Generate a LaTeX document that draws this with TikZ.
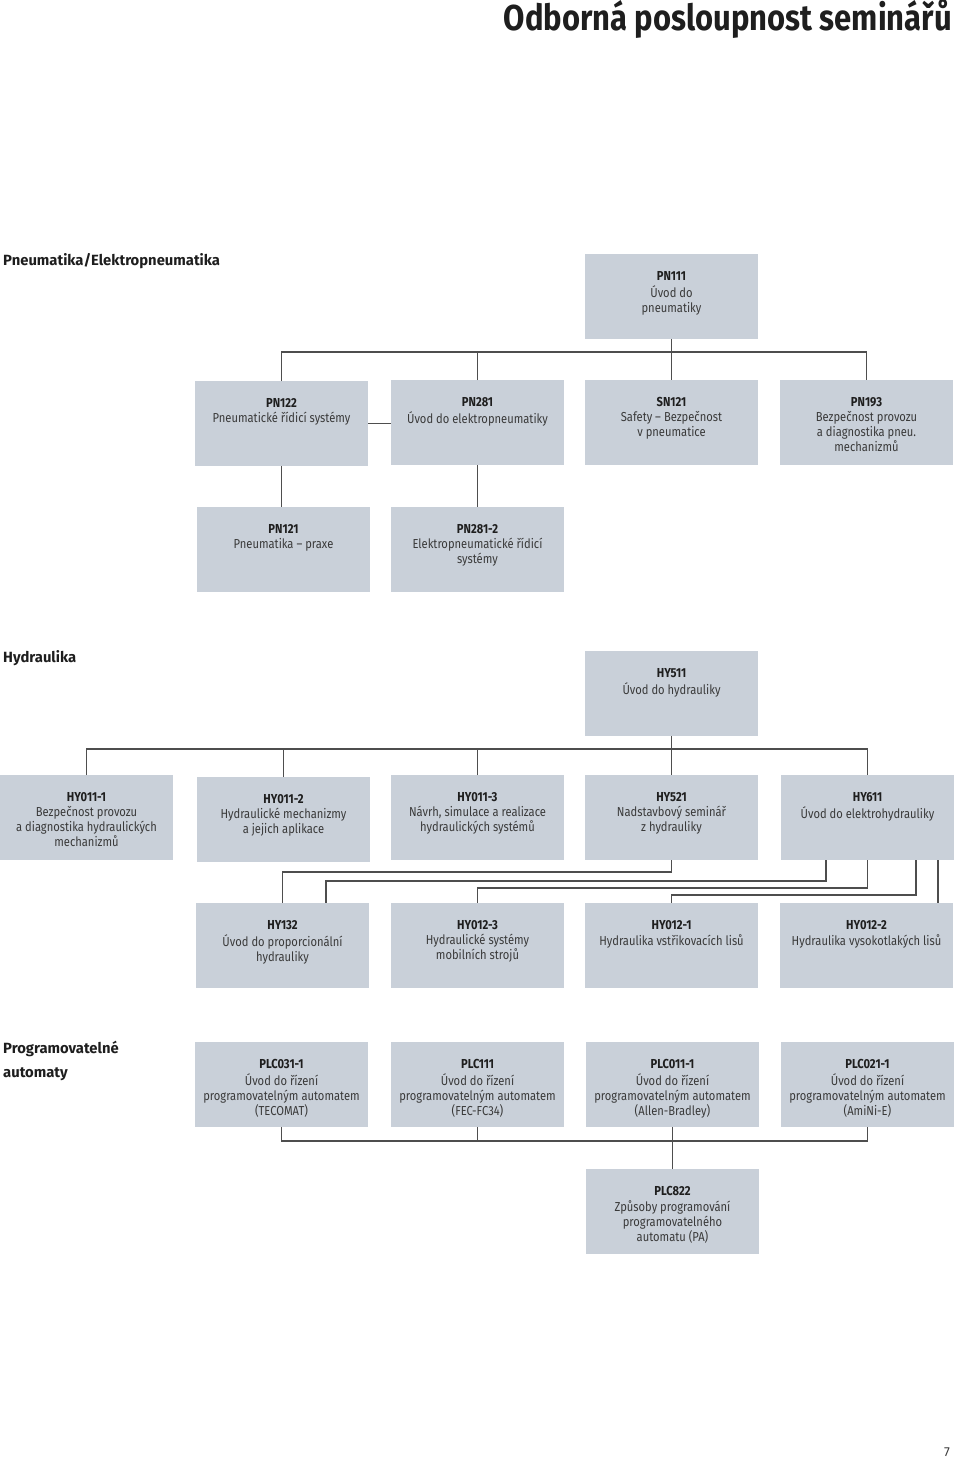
\documentclass[tikz,border=0pt]{standalone}
\usepackage{fontspec}
\setmainfont{Fira Sans}
\newfontfamily\boxfont{Fira Sans}[FakeStretch=0.86]
\newfontfamily\titlefont{Fira Sans}[FakeStretch=0.86]
\definecolor{boxc}{HTML}{C9D0D9}
\definecolor{linec}{HTML}{4E4E4E}
\definecolor{txtc}{HTML}{3A3A3A}
\definecolor{codec}{HTML}{1E1E1E}
\newcommand\bxt[2]{\vbox to 85pt{\hsize=173pt\parindent=0pt\boxfont\fontsize{13}{15}\selectfont
  \vskip 15.5pt\centering\strut{\color{codec}\bfseries #1}\\#2\par\vfill}}
\tikzset{
  box/.style={anchor=north west, fill=boxc, inner sep=0pt, outer sep=0pt, text=txtc},
  conn/.style={draw=linec, line width=1.1pt},
  hdr/.style={text=codec, inner sep=0pt, font=\fontsize{14.8}{24}\selectfont\bfseries}
}
\begin{document}
\begin{tikzpicture}[x=1pt,y=-1pt]
\useasboundingbox (0,0) rectangle (960,1461);
% title
\node[anchor=base east, inner sep=0pt, text=codec] (title) at (952,31)
  {\titlefont\fontsize{36}{38}\selectfont\bfseries Odborná posloupnost seminářů};
% headers
\node[hdr, anchor=base west] (hpn) at (3,265) {Pneumatika/Elektropneumatika};
\node[hdr, anchor=base west] (hhy) at (3,662) {Hydraulika};
\node[hdr, anchor=base west, align=left] (hplc) at (3,1077) {Programovatelné\\automaty};
% pneumatics
\node[box] (pn111) at (585,254) {\bxt{PN111}{Úvod do\\pneumatiky}};
\node[box] (pn122) at (195,381) {\bxt{PN122}{Pneumatické řídicí systémy}};
\node[box] (pn281) at (391,380) {\bxt{PN281}{Úvod do elektropneumatiky}};
\node[box] (sn121) at (585,380) {\bxt{SN121}{Safety – Bezpečnost\\v pneumatice}};
\node[box] (pn193) at (780,380) {\bxt{PN193}{Bezpečnost provozu\\a diagnostika pneu.\\mechanizmů}};
\node[box] (pn121) at (197,507) {\bxt{PN121}{Pneumatika – praxe}};
\node[box] (pn2812) at (391,507) {\bxt{PN281-2}{Elektropneumatické řídicí\\systémy}};
\coordinate (pbus) at (0,352);
\draw[conn] (pn122.north) -- (pn122.north |- pbus) -- (pn193.north |- pbus) -- (pn193.north);
\draw[conn] (pn281.north) -- (pn281.north |- pbus);
\draw[conn] (pn111.south) -- (sn121.north);
\draw[conn] (pn122.east) -- (pn122.east -| pn281.west);
\draw[conn] (pn122.south) -- (pn122.south |- pn121.north);
\draw[conn] (pn281.south) -- (pn2812.north);
% hydraulics
\node[box] (hy511) at (585,651) {\bxt{HY511}{Úvod do hydrauliky}};
\node[box] (hy0111) at (0,775) {\bxt{HY011-1}{Bezpečnost provozu\\a diagnostika hydraulických\\mechanizmů}};
\node[box] (hy0112) at (197,777) {\bxt{HY011-2}{Hydraulické mechanizmy\\a jejich aplikace}};
\node[box] (hy0113) at (391,775) {\bxt{HY011-3}{Návrh, simulace a realizace\\hydraulických systémů}};
\node[box] (hy521) at (585,775) {\bxt{HY521}{Nadstavbový seminář\\z hydrauliky}};
\node[box] (hy611) at (781,775) {\bxt{HY611}{Úvod do elektrohydrauliky}};
\node[box] (hy132) at (196,903) {\bxt{HY132}{Úvod do proporcionální\\hydrauliky}};
\node[box] (hy0123) at (391,903) {\bxt{HY012-3}{Hydraulické systémy\\mobilních strojů}};
\node[box] (hy0121) at (585,903) {\bxt{HY012-1}{Hydraulika vstřikovacích lisů}};
\node[box] (hy0122) at (780,903) {\bxt{HY012-2}{Hydraulika vysokotlakých lisů}};
\coordinate (hbus) at (0,749);
\draw[conn] (hy0111.north) -- (hy0111.north |- hbus) -- (hy611.north |- hbus) -- (hy611.north);
\draw[conn] (hy0112.north) -- (hy0112.north |- hbus);
\draw[conn] (hy0113.north) -- (hy0113.north |- hbus);
\draw[conn] (hy511.south) -- (hy521.north);
\coordinate (h1) at (0,872);
\coordinate (h2) at (0,881);
\coordinate (h3) at (0,888);
\coordinate (h4) at (0,895);
\coordinate (d1) at (826,0);
\coordinate (d3) at (916,0);
\coordinate (d4) at (938,0);
\coordinate (u2) at (326,0);
\draw[conn] (hy521.south) -- (hy521.south |- h1) -- (hy132.north |- h1) -- (hy132.north);
\draw[conn] (d1 |- hy611.south) -- (d1 |- h2) -- (u2 |- h2) -- (u2 |- hy132.north);
\draw[conn] (hy611.south) -- (hy611.south |- h3) -- (hy0123.north |- h3) -- (hy0123.north);
\draw[conn] (d3 |- hy611.south) -- (d3 |- h4) -- (hy0121.north |- h4) -- (hy0121.north);
\draw[conn] (d4 |- hy611.south) -- (d4 |- hy0122.north);
% PLC
\node[box] (plc0311) at (195,1042) {\bxt{PLC031-1}{Úvod do řízení\\programovatelným automatem\\(TECOMAT)}};
\node[box] (plc111) at (391,1042) {\bxt{PLC111}{Úvod do řízení\\programovatelným automatem\\(FEC-FC34)}};
\node[box] (plc0111) at (586,1042) {\bxt{PLC011-1}{Úvod do řízení\\programovatelným automatem\\(Allen-Bradley)}};
\node[box] (plc0211) at (781,1042) {\bxt{PLC021-1}{Úvod do řízení\\programovatelným automatem\\(AmiNi-E)}};
\node[box] (plc822) at (586,1169) {\bxt{PLC822}{Způsoby programování\\programovatelného\\automatu (PA)}};
\coordinate (lbus) at (0,1141);
\draw[conn] (plc0311.south) -- (plc0311.south |- lbus) -- (plc0211.south |- lbus) -- (plc0211.south);
\draw[conn] (plc111.south) -- (plc111.south |- lbus);
\draw[conn] (plc0111.south) -- (plc822.north);
% page number
\node[inner sep=0pt, text=txtc, font=\fontsize{13}{15}\selectfont] (pg) at (947,1452) {7};
\end{tikzpicture}
\end{document}
